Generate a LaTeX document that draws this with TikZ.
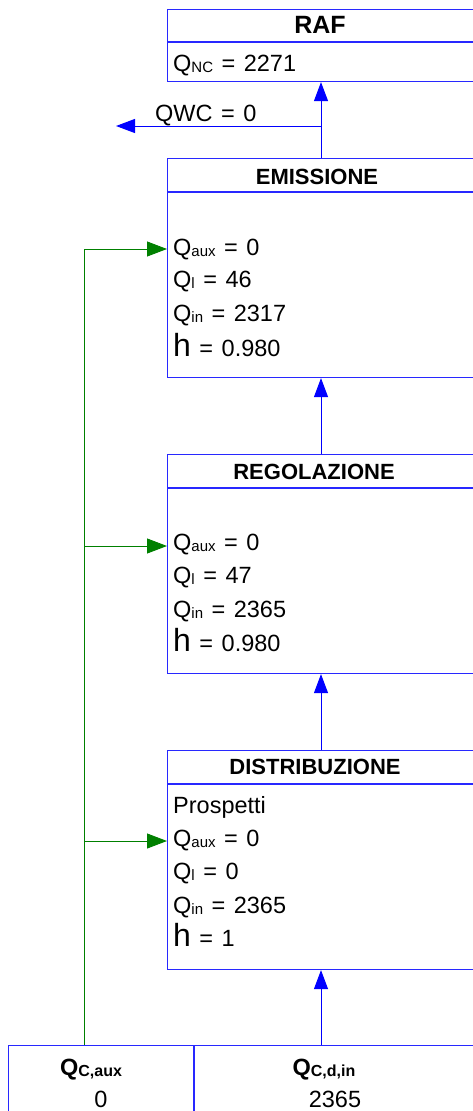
\documentclass[tikz,border=0pt]{standalone}
\usepackage{fontspec}
\setmainfont{Liberation Sans}
\usetikzlibrary{arrows.meta}
\definecolor{flowblue}{RGB}{0,0,255}
\definecolor{boxblue}{RGB}{40,40,255}
\definecolor{auxgreen}{RGB}{0,128,0}
% quantity with a small subscript set on the baseline
\newcommand{\Qsub}[1]{Q{\fontsize{15}{15}\selectfont\raisebox{-1pt}{#1}}}
\newcommand{\bigh}{{\fontsize{32}{32}\selectfont h}}
\newcommand{\widespace}{\spaceskip=8.5pt\relax}
\begin{document}
\begin{tikzpicture}[x=1pt,y=-1pt,
  block/.style={draw=boxblue,line width=1.1pt,rectangle,inner sep=0pt,anchor=north west},
  divider/.style={draw=boxblue,line width=1.1pt},
  flow/.style={draw=flowblue,line width=1pt,-{Triangle[length=19pt,width=14pt]}},
  auxflow/.style={draw=auxgreen,line width=0.9pt,-{Triangle[length=20pt,width=15pt]}},
  auxline/.style={draw=auxgreen,line width=0.9pt},
  val/.style={anchor=base west,inner sep=0pt,font=\fontsize{23.5}{28}\selectfont\widespace},
  head/.style={anchor=base,inner sep=0pt,font=\fontsize{22}{26}\selectfont\bfseries},
  cell/.style={anchor=base,inner sep=0pt,font=\fontsize{23.5}{28}\selectfont}]
\clip (0,0) rectangle (473,1111);
\useasboundingbox (0,0) rectangle (473,1111);

% vertical axis of the main energy flow and the auxiliary feed line
\coordinate (axis) at (321,0);
\coordinate (gx) at (84,0);

% RAF
\node[block,minimum width=330pt,minimum height=72pt] (raf) at (167,9) {};
\draw[divider] (167,42) -- (500,42);
\node[head,font=\fontsize{25}{28}\selectfont\bfseries] (rafh) at (320,33) {RAF};
\node[val] (qnc) at (173,71) {\Qsub{NC} = 2271};

% EMISSIONE
\node[block,minimum width=330pt,minimum height=219pt] (emi) at (167,158) {};
\draw[divider] (167,192) -- (500,192);
\node[head] (emih) at (317,184) {EMISSIONE};
\node[val] (emi1) at (173,255) {\Qsub{aux} = 0};
\node[val] (emi2) at (173,287) {\Qsub{l} = 46};
\node[val] (emi3) at (173,321) {\Qsub{in} = 2317};
\node[val] (emi4) at (173,356) {\bigh{} = 0.980};

% REGOLAZIONE
\node[block,minimum width=330pt,minimum height=219pt] (reg) at (167,454) {};
\draw[divider] (167,488) -- (500,488);
\node[head] (regh) at (314,479) {REGOLAZIONE};
\node[val] (reg1) at (173,550) {\Qsub{aux} = 0};
\node[val] (reg2) at (173,583) {\Qsub{l} = 47};
\node[val] (reg3) at (173,617) {\Qsub{in} = 2365};
\node[val] (reg4) at (173,651) {\bigh{} = 0.980};

% DISTRIBUZIONE
\node[block,minimum width=330pt,minimum height=219pt] (dis) at (167,750) {};
\draw[divider] (167,784) -- (500,784);
\node[head] (dish) at (315,774) {DISTRIBUZIONE};
\node[val] (dis0) at (173,813) {Prospetti};
\node[val] (dis1) at (173,846) {\Qsub{aux} = 0};
\node[val] (dis2) at (173,879) {\Qsub{l} = 0};
\node[val] (dis3) at (173,913) {\Qsub{in} = 2365};
\node[val] (dis4) at (173,946) {\bigh{} = 1};

% summary table at the bottom
\node[block,minimum width=500pt,minimum height=90pt] (tab) at (8,1045) {};
\draw[divider] (194,1045) -- (194,1140);
\node[cell] (auxh) at (91,1075) {\bfseries Q{\fontsize{16}{16}\selectfont\raisebox{-1pt}{C,aux}}};
\node[cell] (auxv) at (101,1107) {0};
\node[cell] (dinh) at (324,1075) {\bfseries Q{\fontsize{16}{16}\selectfont\raisebox{-1pt}{C,d,in}}};
\node[cell] (dinv) at (335,1107) {2365};

% main flow, bottom to top
\draw[flow] (tab.north west -| axis) -- (dis.south west -| axis);
\draw[flow] (dis.north west -| axis) -- (reg.south west -| axis);
\draw[flow] (reg.north west -| axis) -- (emi.south west -| axis);
\draw[flow] (emi.north west -| axis) -- (raf.south west -| axis);

% heat given to the water circuit
\coordinate (wcout) at (116,126);
\draw[flow] (axis |- wcout) -- (wcout);
\node[val] (qwc) at (155,121) {QWC = 0};

% auxiliary energy feeds
\coordinate (emiaux) at (167,249);
\coordinate (regaux) at (167,546);
\coordinate (disaux) at (167,841);
\draw[auxline] (tab.north west -| gx) -- (gx |- emiaux);
\draw[auxflow] (gx |- emiaux) -- (emiaux);
\draw[auxflow] (gx |- regaux) -- (regaux);
\draw[auxflow] (gx |- disaux) -- (disaux);
\end{tikzpicture}
\end{document}
